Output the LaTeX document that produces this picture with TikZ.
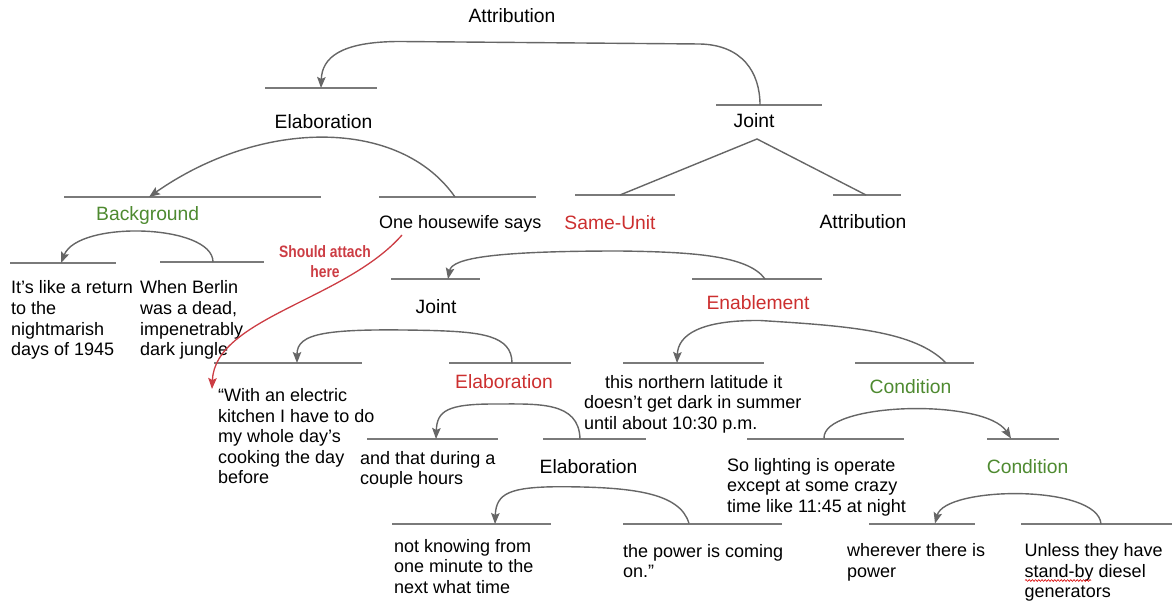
\documentclass[tikz,border=0pt]{standalone}
\usepackage{fontspec}
\setmainfont{Liberation Sans}
\usetikzlibrary{arrows.meta,decorations.pathmorphing}
\definecolor{spangray}{HTML}{7A7A7A}
\definecolor{arcgray}{HTML}{666666}
\definecolor{relred}{HTML}{CC2F2F}
\definecolor{relgreen}{HTML}{4E8A30}
\definecolor{notered}{HTML}{CC3D44}
\newcommand\mlines[1]{\begin{tabular}[t]{@{}l@{}}#1\end{tabular}}
\begin{document}
\begin{tikzpicture}[x=1pt,y=-1pt,
  span/.style={draw=spangray, line width=2pt},
  rel/.style={draw=arcgray, line width=1.4pt, -{Stealth[length=11pt,width=8.5pt,inset=2pt]}},
  plain/.style={draw=arcgray, line width=1.4pt},
  txt/.style={anchor=base west, inner sep=0pt, font=\fontsize{18}{20.6}\selectfont},
  lab/.style={anchor=base, inner sep=0pt, font=\fontsize{19.3}{22}\selectfont},
]
\useasboundingbox (0,0) rectangle (1172,601);

% ---------- span lines ----------
\coordinate (s1a) at (265,88);   \coordinate (s1b) at (377,88);
\coordinate (s2a) at (716,105);  \coordinate (s2b) at (822,105);
\coordinate (s3a) at (64,197);   \coordinate (s3b) at (321,197);
\coordinate (s4a) at (379,197);  \coordinate (s4b) at (536,197);
\coordinate (s5a) at (575,195);  \coordinate (s5b) at (675,195);
\coordinate (s6a) at (833,195);  \coordinate (s6b) at (901,195);
\coordinate (s7a) at (10,263);   \coordinate (s7b) at (116,263);
\coordinate (s8a) at (160,262);  \coordinate (s8b) at (264,262);
\coordinate (s9a) at (391,279);  \coordinate (s9b) at (480,279);
\coordinate (s10a) at (692,279); \coordinate (s10b) at (822,279);
\coordinate (s11a) at (214,363); \coordinate (s11b) at (362,363);
\coordinate (s12a) at (449,363); \coordinate (s12b) at (571,363);
\coordinate (s13a) at (623,363); \coordinate (s13b) at (764,363);
\coordinate (s14a) at (855,363); \coordinate (s14b) at (974,363);
\coordinate (s15a) at (367,439); \coordinate (s15b) at (498,439);
\coordinate (s16a) at (543,439); \coordinate (s16b) at (646,439);
\coordinate (s17a) at (747,438.5); \coordinate (s17b) at (904,438.5);
\coordinate (s18a) at (987,438.5); \coordinate (s18b) at (1059,438.5);
\coordinate (s19a) at (392,524); \coordinate (s19b) at (551,524);
\coordinate (s20a) at (623,523.5); \coordinate (s20b) at (782,523.5);
\coordinate (s21a) at (869,523.5); \coordinate (s21b) at (975,523.5);
\coordinate (s22a) at (1021,524); \coordinate (s22b) at (1172,524);
\foreach \i in {1,...,22} {\draw[span] (s\i a) -- (s\i b);}

% ---------- relation labels ----------
\node[lab] (l1) at (512,23) {Attribution};
\node[lab] (l2) at (323.5,128.7) {Elaboration};
\node[lab] (l3) at (754,128) {Joint};
\node[lab,text=relgreen] (l4) at (147.7,221) {Background};
\node[lab,text=relred] (l5) at (610,229.7) {Same-Unit};
\node[lab] (l6) at (863,229) {Attribution};
\node[lab] (l7) at (436,313.7) {Joint};
\node[lab,text=relred] (l8) at (758,309.7) {Enablement};
\node[lab,text=relred] (l9) at (504,388.7) {Elaboration};
\node[lab,text=relgreen] (l10) at (910.5,393.7) {Condition};
\node[lab] (l11) at (588.5,473) {Elaboration};
\node[lab,text=relgreen] (l12) at (1027.6,473) {Condition};

% ---------- text segments ----------
\node[txt] (t1) at (11,294) {\mlines{It’s like a return\\to the\\nightmarish\\days of 1945}};
\node[txt] (t2) at (140,294) {\mlines{When Berlin\\was a dead,\\impenetrably\\dark jungle}};
\node[txt] (t3) at (379,229) {One housewife says};
\node[txt] (t4) at (218,401.5) {\mlines{“With an electric\\kitchen I have to do\\my whole day’s\\cooking the day\\before}};
\node[txt] (t5) at (360,464) {\mlines{and that during a\\couple hours}};
\node[txt] (t6) at (394,552) {\mlines{not knowing from\\one minute to the\\next what time}};
\node[txt] (t7) at (623,557) {\mlines{the power is coming\\on.”}};
\node[txt] (t8) at (584,388) {\mlines{\hspace*{21pt}this northern latitude it\\doesn’t get dark in summer\\until about 10:30 p.m.}};
\node[txt] (t9) at (727,471) {\mlines{So lighting is operate\\except at some crazy\\time like 11:45 at night}};
\node[txt] (t10) at (847,556.5) {\mlines{wherever there is\\power}};
\node[txt] (t11) at (1024.5,556.5) {\mlines{Unless they have\\stand-by diesel\\generators}};
\coordinate (sq1) at (1025,580.5); \coordinate (sq2) at (1091,580.5);
\draw[red!85!black, line width=0.6pt, decorate, decoration={snake, amplitude=0.9pt, segment length=3.2pt}] (sq1) -- (sq2);

% ---------- arcs ----------
\coordinate (a1s) at (760,105); \coordinate (a1t) at (321,88);
\draw[rel] (a1s) .. controls (760,72) and (742,45) .. (700,44) -- (400,41.5) .. controls (340,41.5) and (322,58) .. (a1t);
\coordinate (a2s) at (455,197); \coordinate (a2t) at (149,197);
\draw[rel] (a2s) .. controls (400,118) and (262,118) .. (a2t);
\coordinate (a3s) at (213,262); \coordinate (a3t) at (61,263);
\draw[rel] (a3s) .. controls (213,224) and (78,220) .. (a3t);
\coordinate (a4s) at (765,279); \coordinate (a4t) at (448,279);
\draw[rel] (a4s) .. controls (748,255) and (690,252) .. (620,251) .. controls (495,251) and (452,258) .. (a4t);
\coordinate (a5s) at (512,363); \coordinate (a5t) at (297,363);
\draw[rel] (a5s) .. controls (512,335) and (480,332) .. (432,330.5) .. controls (325,328) and (297,333) .. (a5t);
\coordinate (a6s) at (580,439); \coordinate (a6t) at (436,439);
\draw[rel] (a6s) .. controls (579,401) and (538,404) .. (494,404) .. controls (447,404) and (437,411) .. (a6t);
\coordinate (a7s) at (689,523.5); \coordinate (a7t) at (495,524);
\draw[rel] (a7s) .. controls (680,492) and (630,487) .. (560,486.7) .. controls (510,487) and (496,493) .. (a7t);
\coordinate (a8s) at (946,363); \coordinate (a8t) at (677,363);
\draw[rel] (a8s) .. controls (915,331) and (850,326) .. (760,320.5) .. controls (700,320) and (678,335) .. (a8t);
\coordinate (a9s) at (824,438.5); \coordinate (a9t) at (1011,438.5);
\draw[rel] (a9s) .. controls (822,402) and (985,398) .. (a9t);
\coordinate (a10s) at (1101,524); \coordinate (a10t) at (935,523.5);
\draw[rel] (a10s) .. controls (1098,484) and (945,486) .. (a10t);
% Joint (multinuclear)
\coordinate (j1) at (757,139); \coordinate (j1l) at (620,195); \coordinate (j1r) at (866,195);
\draw[plain] (j1l) -- (j1) -- (j1r);

% ---------- annotation ----------
\coordinate (n1) at (402,235); \coordinate (n2) at (212,389);
\draw[draw=notered, line width=1.3pt, -{Stealth[length=11pt,width=8.5pt,inset=2pt]}]
  (n1) .. controls (345,300) and (215,318) .. (n2);
\node[inner sep=0pt, anchor=base, text=notered, font=\fontsize{16.5}{20}\selectfont\bfseries] (note) at (325,258)
  {\scalebox{0.84}[1]{\begin{tabular}[t]{@{}c@{}}Should attach\\here\end{tabular}}};
\end{tikzpicture}
\end{document}
